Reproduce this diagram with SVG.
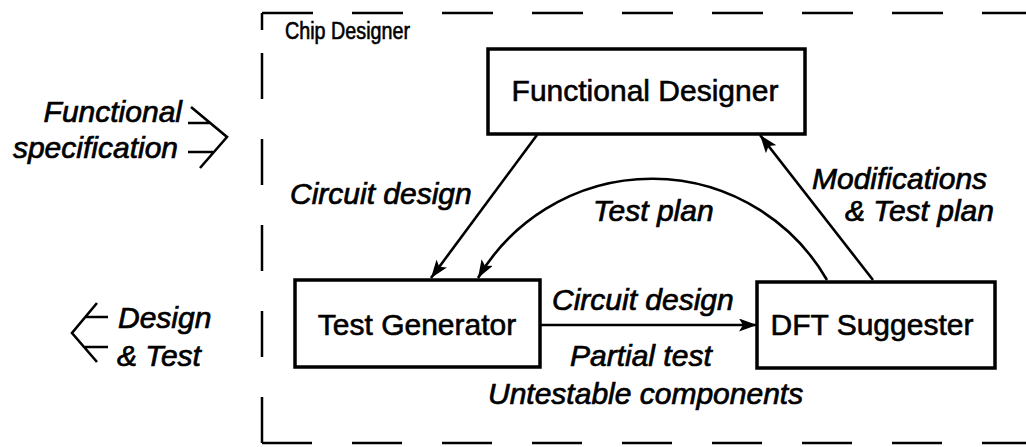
<svg xmlns="http://www.w3.org/2000/svg" width="1026" height="447" viewBox="0 0 1026 447">
  <defs>
    <style>
      .node rect { fill: #fff; stroke: #000; stroke-width: 3.5; }
      .node text { font-family: "Liberation Sans", Arial, sans-serif; font-size: 30px; fill: #000; stroke: #000; stroke-width: 0.6; text-anchor: middle; }
      .lbl { font-family: "Liberation Sans", Arial, sans-serif; font-size: 30px; font-style: italic; fill: #000; stroke: #000; stroke-width: 0.7; }
      .title { font-family: "Liberation Sans", Arial, sans-serif; font-size: 23px; fill: #000; stroke: #000; stroke-width: 0.6; }
      .edge { fill: none; stroke: #000; stroke-width: 2.6; }
      .border { fill: none; stroke: #000; stroke-width: 2.5; }
    </style>
    <marker id="arrow" viewBox="0 0 18 13" refX="18" refY="6.5" markerWidth="18" markerHeight="13" markerUnits="userSpaceOnUse" orient="auto">
      <path d="M0,0 L18,6.5 L0,13 L4,6.5 z" fill="#000"/>
    </marker>
  </defs>

  <rect width="1026" height="447" fill="#fff"/>

  <!-- dashed system boundary -->
  <g id="chip-designer">
    <path class="border" d="M262,13 H1026" stroke-dasharray="51 39"/>
    <path class="border" d="M262,443 H1026" stroke-dasharray="50 40"/>
    <path class="border" d="M262,443 V13" stroke-dasharray="46 40"/>
    <path class="border" d="M262,13 V30"/>
    <text class="title" x="285" y="39" textLength="125" lengthAdjust="spacingAndGlyphs">Chip Designer</text>
  </g>

  <!-- external inputs / outputs -->
  <g id="input-spec">
    <text class="lbl" x="182" y="122" text-anchor="end">Functional</text>
    <text class="lbl" x="178" y="158" text-anchor="end">specification</text>
    <path class="edge" d="M191,107 L227,137 L200,168 M188,123 H211 M188,152 H213"/>
  </g>
  <g id="output-design">
    <path class="edge" d="M97,303 L72,333 L97,362 M85,317 H108 M85,347 H108"/>
    <text class="lbl" x="118" y="328">Design</text>
    <text class="lbl" x="117" y="366">&amp; Test</text>
  </g>

  <!-- nodes -->
  <g id="functional-designer" class="node">
    <rect x="488" y="49" width="317" height="85"/>
    <text x="645" y="101">Functional Designer</text>
  </g>
  <g id="test-generator" class="node">
    <rect x="295" y="280" width="245" height="87"/>
    <text x="417" y="335">Test Generator</text>
  </g>
  <g id="dft-suggester" class="node">
    <rect x="757" y="282" width="238" height="86"/>
    <text x="872" y="335">DFT Suggester</text>
  </g>

  <!-- connectors -->
  <g id="connectors">
    <path class="edge" d="M537,135 L431,278" marker-end="url(#arrow)"/>
    <path class="edge" d="M827,280 A202,202 0 0 0 478,278" marker-end="url(#arrow)"/>
    <path class="edge" d="M873,280 L760,135" marker-end="url(#arrow)"/>
    <path class="edge" d="M540,325 L757,325" marker-end="url(#arrow)"/>
  </g>

  <!-- connector labels -->
  <g id="edge-labels">
    <text class="lbl" x="290" y="204">Circuit design</text>
    <text class="lbl" x="593" y="221">Test plan</text>
    <text class="lbl" x="812" y="189">Modifications</text>
    <text class="lbl" x="845" y="221">&amp; Test plan</text>
    <text class="lbl" x="552" y="310">Circuit design</text>
    <text class="lbl" x="570" y="366">Partial test</text>
    <text class="lbl" x="488" y="404">Untestable components</text>
  </g>
</svg>
